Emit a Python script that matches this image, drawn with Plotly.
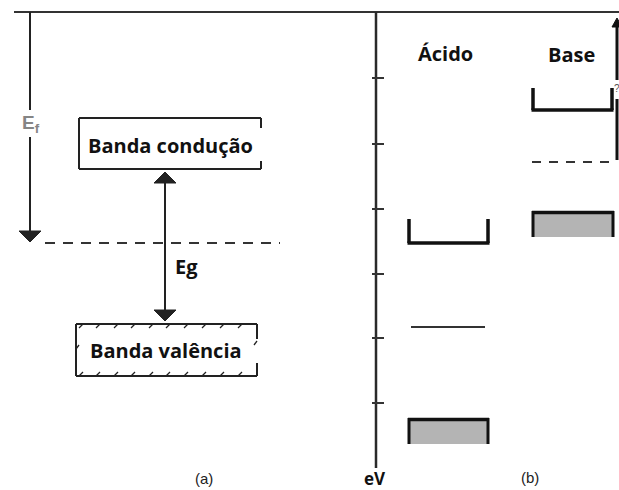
import plotly.graph_objects as go

# ---------------- diagram data (diagram coordinates: x right, y downward, in px of a 619x490 canvas)
W, H = 619, 490

# Panel (a): band-gap scheme
frame_top_y = 12
frame_x = [14, 619]
ef_arrow_x = 30
ef_arrow_y = [12, 242]
ef_label_gap = [110, 137]
fermi_a_y = 243
fermi_a_x = [45, 280]
cond_box_x = [79, 261]
cond_box_y = [118, 169]
cond_box_right_gap = [128, 161]
val_box_x = [76, 257]
val_box_y = [324, 376]
val_box_right_gap = [339, 363]
val_hatch_x = [81, 98, 116, 133, 151, 168, 186, 204, 222, 240]
eg_arrow_x = 165
eg_arrow_y = [172, 321]

# Panel (b): energy levels vs eV axis
ev_axis_x = 376
ev_axis_y = [12, 468]
ev_ticks_y = [78, 144, 209, 274, 338, 403]
ev_tick_x = [372, 384]
acid_x = [409, 488]
acid_cb_y = [219, 243]
acid_mid_y = 327
acid_mid_x = [411, 485]
acid_vb_y = [418, 444]
base_x = [533, 612]
base_cb_y = [88, 110]
base_fermi_y = 162
base_fermi_x = [532, 614]
base_vb_y = [211, 237]
base_arrow_x = 617
base_arrow_y = [160, 18]
base_arrow_gap = [80, 99]

# Text labels
bold_labels = ["Banda condução", "Banda valência", "Eg", "Ácido", "Base", "eV"]
bold_x = [170, 166, 186, 445, 571, 375]
bold_y = [145, 350, 266, 53, 54, 478]
bold_size = [20, 20, 20, 20, 20, 17]
plain_labels = ["(a)", "(b)"]
plain_x = [204, 530]
plain_y = [478, 477]

DARK = "#222222"
GRAY_FILL = "#b4b4b4"

fig = go.Figure()
fig.add_trace(go.Scatter(x=[0, W], y=[0, H], mode="markers",
                         marker=dict(opacity=0), hoverinfo="skip", showlegend=False))

shapes = []


def seg(x0, y0, x1, y1, w=2.0, color=DARK, dash=None):
    line = dict(color=color, width=w)
    if dash:
        line["dash"] = dash
    shapes.append(dict(type="line", xref="x", yref="y", x0=x0, y0=y0, x1=x1, y1=y1,
                       line=line, layer="above"))


def head(xt, yt, direction, w=22, h=11, color=DARK):
    # direction = +1 -> pointing down (tip at larger y), -1 -> pointing up
    yb = yt - direction * h
    path = f"M {xt},{yt} L {xt - w / 2},{yb} L {xt + w / 2},{yb} Z"
    shapes.append(dict(type="path", xref="x", yref="y", path=path,
                       fillcolor=color, line=dict(color=color, width=1), layer="above"))


# frame top line
seg(frame_x[0], frame_top_y, frame_x[1], frame_top_y, w=2, color="#333333")

# E_f arrow with gap for label
seg(ef_arrow_x, ef_arrow_y[0], ef_arrow_x, ef_label_gap[0], w=2)
seg(ef_arrow_x, ef_label_gap[1], ef_arrow_x, ef_arrow_y[1] - 8, w=2)
head(ef_arrow_x, ef_arrow_y[1], +1, w=22, h=11)

# Fermi level (a)
seg(fermi_a_x[0], fermi_a_y, fermi_a_x[1], fermi_a_y, w=2, color="#333333", dash="10px,8px")

# conduction band box
cx0, cx1 = cond_box_x
cy0, cy1 = cond_box_y
seg(cx0, cy0, cx1, cy0)
seg(cx0, cy1, cx1, cy1)
seg(cx0, cy0, cx0, cy1)
seg(cx1, cy0, cx1, cond_box_right_gap[0])
seg(cx1, cond_box_right_gap[1], cx1, cy1)

# valence band box with hatch ticks
vx0, vx1 = val_box_x
vy0, vy1 = val_box_y
seg(vx0, vy0, vx1, vy0)
seg(vx0, vy1, vx1, vy1)
seg(vx0, vy0, vx0, vy1)
seg(vx1, vy0, vx1, val_box_right_gap[0])
seg(vx1, val_box_right_gap[1], vx1, vy1)
for hx in val_hatch_x:
    seg(hx - 2, vy0 + 4, hx + 2, vy0, w=1.3)
    seg(hx - 2, vy1, hx + 2, vy1 - 4, w=1.3)
seg(vx0, 349, vx0 + 3, 345, w=1.3)
seg(vx1 - 3, 345, vx1, 341, w=1.3)

# Eg double arrow
seg(eg_arrow_x, eg_arrow_y[0] + 8, eg_arrow_x, eg_arrow_y[1] - 8, w=2)
head(eg_arrow_x, eg_arrow_y[0], -1, w=22, h=11)
head(eg_arrow_x, eg_arrow_y[1], +1, w=22, h=11)

# eV axis
seg(ev_axis_x, ev_axis_y[0], ev_axis_x, ev_axis_y[1], w=2.5, color="#2a2a2a")
for ty in ev_ticks_y:
    seg(ev_tick_x[0], ty, ev_tick_x[1], ty, w=2, color="#333333")

# Acid levels
ax0, ax1 = acid_x
seg(ax0, acid_cb_y[0], ax0, acid_cb_y[1], w=3.5, color="#111111")
seg(ax1, acid_cb_y[0], ax1, acid_cb_y[1], w=3.5, color="#111111")
seg(ax0 - 1.5, acid_cb_y[1], ax1 + 1.5, acid_cb_y[1], w=3.5, color="#111111")
seg(acid_mid_x[0], acid_mid_y, acid_mid_x[1], acid_mid_y, w=2.2, color="#333333")
shapes.append(dict(type="rect", xref="x", yref="y", x0=ax0 - 1, x1=ax1 + 1,
                   y0=acid_vb_y[0], y1=acid_vb_y[1], fillcolor=GRAY_FILL,
                   line=dict(width=0), layer="above"))
seg(ax0 - 1, acid_vb_y[0] + 1.5, ax1 + 1, acid_vb_y[0] + 1.5, w=3.5, color="#111111")
seg(ax0, acid_vb_y[0], ax0, acid_vb_y[1], w=3, color="#111111")
seg(ax1, acid_vb_y[0], ax1, acid_vb_y[1], w=3, color="#111111")

# Base levels
bx0, bx1 = base_x
seg(bx0, base_cb_y[0], bx0, base_cb_y[1], w=3.5, color="#111111")
seg(bx1, base_cb_y[0], bx1, base_cb_y[1], w=3.5, color="#111111")
seg(bx0 - 1.5, base_cb_y[1], bx1 + 1.5, base_cb_y[1], w=3.5, color="#111111")
seg(base_fermi_x[0], base_fermi_y, base_fermi_x[1], base_fermi_y, w=2.2,
    color="#333333", dash="9px,8px")
shapes.append(dict(type="rect", xref="x", yref="y", x0=bx0 - 1, x1=bx1 + 2,
                   y0=base_vb_y[0], y1=base_vb_y[1], fillcolor=GRAY_FILL,
                   line=dict(width=0), layer="above"))
seg(bx0 - 1, base_vb_y[0] + 1.5, bx1 + 2, base_vb_y[0] + 1.5, w=3.5, color="#111111")
seg(bx0, base_vb_y[0], bx0, base_vb_y[1], w=3, color="#111111")
seg(bx1 + 1, base_vb_y[0], bx1 + 1, base_vb_y[1], w=3, color="#111111")

# right arrow (base)
seg(base_arrow_x, base_arrow_y[0], base_arrow_x, base_arrow_gap[1], w=3, color="#111111")
seg(base_arrow_x, base_arrow_gap[0], base_arrow_x, base_arrow_y[1] + 6, w=3, color="#111111")
head(base_arrow_x, base_arrow_y[1], -1, w=10, h=9, color="#111111")

annotations = []
for t, x, y, s in zip(bold_labels, bold_x, bold_y, bold_size):
    annotations.append(dict(x=x, y=y, xref="x", yref="y", text=f"<b>{t}</b>", showarrow=False,
                            xanchor="center", yanchor="middle",
                            font=dict(family="Open Sans", size=s, color="#111111")))
for t, x, y in zip(plain_labels, plain_x, plain_y):
    annotations.append(dict(x=x, y=y, xref="x", yref="y", text=t, showarrow=False,
                            xanchor="center", yanchor="middle",
                            font=dict(family="Liberation Sans", size=15, color="#222222")))
annotations.append(dict(x=31, y=124, xref="x", yref="y", text="<b>E<sub>f</sub></b>",
                        showarrow=False, xanchor="center", yanchor="middle",
                        font=dict(family="Liberation Sans", size=19, color="#858585")))
annotations.append(dict(x=612, y=88, xref="x", yref="y", text="?", showarrow=False,
                        xanchor="left", yanchor="middle",
                        font=dict(family="Liberation Sans", size=10, color="#555555")))

fig.update_layout(
    width=W, height=H,
    margin=dict(l=0, r=0, t=0, b=0),
    paper_bgcolor="white", plot_bgcolor="white",
    xaxis=dict(range=[0, W], visible=False, fixedrange=True),
    yaxis=dict(range=[H, 0], visible=False, fixedrange=True),
    shapes=shapes, annotations=annotations, showlegend=False,
)

fig.write_html("out.html", config={"displayModeBar": False},
               post_script="document.body.style.margin='0';document.body.style.overflow='hidden';")
